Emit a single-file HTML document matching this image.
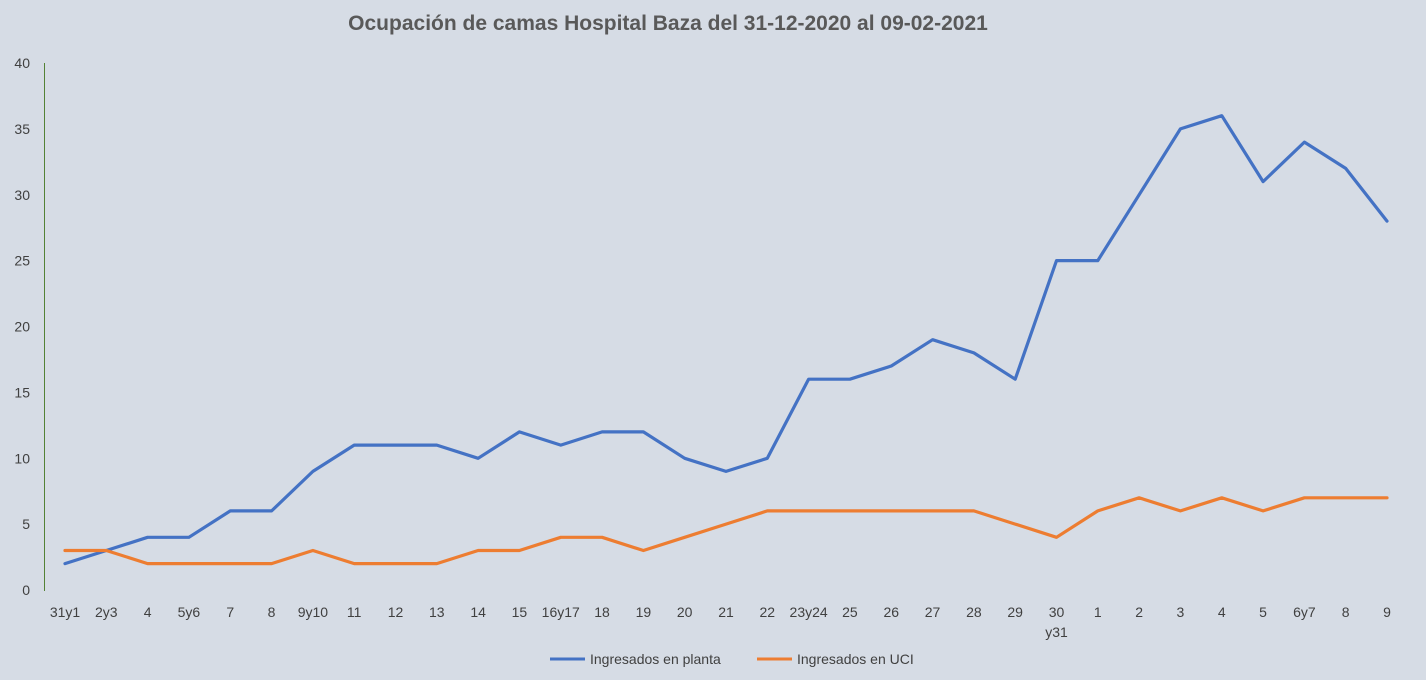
<!DOCTYPE html>
<html><head><meta charset="utf-8"><style>
body{margin:0;background:#d6dce5;}
svg{display:block;font-family:"Liberation Sans",sans-serif;}
</style></head><body>
<svg id="c" width="1426" height="680" viewBox="0 0 1426 680">
<rect width="1426" height="680" fill="#d6dce5"/>
<text x="668" y="30" text-anchor="middle" font-size="21" font-weight="bold" fill="#595959">Ocupación de camas Hospital Baza del 31-12-2020 al 09-02-2021</text>
<line x1="44.5" y1="63" x2="44.5" y2="591" stroke="#548235" stroke-width="1"/>
<g id="g"></g>
<line x1="550" y1="659" x2="585" y2="659" stroke="#4472c4" stroke-width="3"/>
<text x="590" y="664" font-size="14" fill="#404040">Ingresados en planta</text>
<line x1="757" y1="659" x2="792" y2="659" stroke="#ed7d31" stroke-width="3"/>
<text x="797" y="664" font-size="14" fill="#404040">Ingresados en UCI</text>
</svg>
<script>
var labs=["31y1","2y3","4","5y6","7","8","9y10","11","12","13","14","15","16y17","18","19","20","21","22","23y24","25","26","27","28","29","30","1","2","3","4","5","6y7","8","9"];
var b=[2,3,4,4,6,6,9,11,11,11,10,12,11,12,12,10,9,10,16,16,17,19,18,16,25,25,30,35,36,31,34,32,28];
var o=[3,3,2,2,2,2,3,2,2,2,3,3,4,4,3,4,5,6,6,6,6,6,6,5,4,6,7,6,7,6,7,7,7];
var s="",X=function(i){return 65+i*(1387-65)/32},Y=function(v){return 590-v*527/40};
for(var v=0;v<=40;v+=5)s+='<text x="30" y="'+(Y(v)+5)+'" text-anchor="end" font-size="14" fill="#404040">'+v+'</text>';
labs.forEach(function(l,i){s+='<text x="'+X(i)+'" y="617" text-anchor="middle" font-size="14" fill="#404040">'+l+'</text>';});
s+='<text x="'+X(24)+'" y="637" text-anchor="middle" font-size="14" fill="#404040">y31</text>';
function pl(a,c){return '<polyline fill="none" stroke="'+c+'" stroke-width="3.2" stroke-linejoin="round" stroke-linecap="round" points="'+a.map(function(v,i){return X(i).toFixed(1)+","+Y(v).toFixed(1)}).join(" ")+'"/>';}
s+=pl(b,"#4472c4")+pl(o,"#ed7d31");
document.getElementById("g").innerHTML=s;
</script>
</body></html>
